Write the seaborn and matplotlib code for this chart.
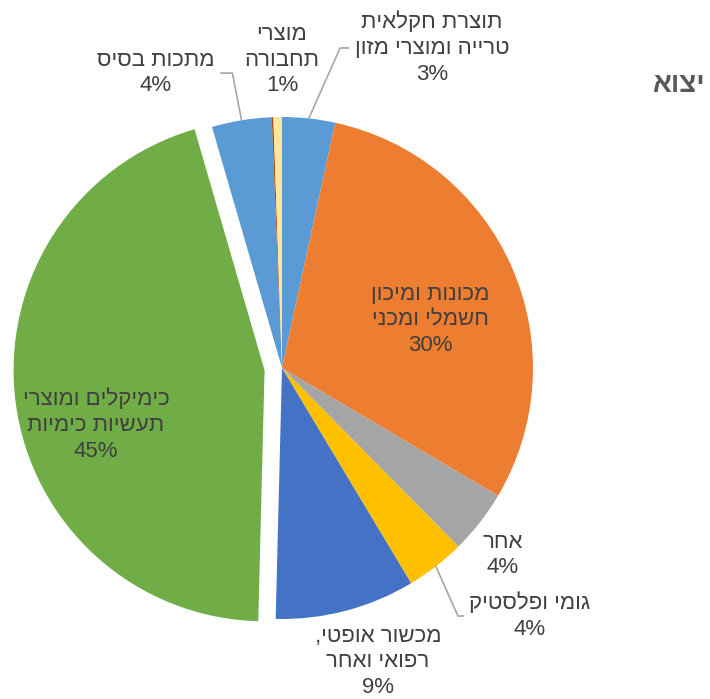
import numpy as np
import matplotlib
matplotlib.use("Agg")
import matplotlib.pyplot as plt
import seaborn as sns

# ── Data ──────────────────────────────────────────────────────────────────────
SECTORS = [
    "תוצרת חקלאית\nטרייה ומוצרי מזון",
    "מכונות ומיכון\nחשמלי ומכני",
    "אחר",
    "גומי ופלסטיק",
    "מכשור אופטי,\nרפואי ואחר",
    "כימיקלים ומוצרי\nתעשיות כימיות",
    "מתכות בסיס",
    "",
    "מוצרי\nתחבורה",
]
SHARES = [3.4, 30.1, 4.1, 3.8, 9.0, 45.1, 3.85, 0.1, 0.55]
COLORS = ["#5B9BD5", "#ED7D31", "#A5A5A5", "#FFC000", "#4472C4",
          "#70AD47", "#5B9BD5", "#9E480E", "#FFE699"]
TITLE = "יצוא"

# ── Layout (label anchors in pie-radius units, leader angle at the slice) ────
LABEL_XY = {
    0: (0.598, 1.275),
    1: (0.590, 0.191),
    2: (0.880, -0.745),
    3: (0.988, -0.988),
    4: (0.382, -1.171),
    5: (-0.741, -0.227),
    6: (-0.502, 1.175),
    8: (0.0, 1.227),
}
LEADERS = {0: 66, 3: -66, 6: 101}

TEXT_COLOR = "#404040"
LINE_COLOR = "#A6A6A6"


def visual(s: str) -> str:
    # matplotlib has no bidi support: flip each Hebrew line by hand
    return "\n".join(line[::-1] for line in s.split("\n"))


sns.set_theme(style="white")
plt.rcParams["font.family"] = ["Liberation Sans", "DejaVu Sans"]

W, H, R, CX, CY = 710, 699, 251, 282, 368
fig = plt.figure(figsize=(W / 100, H / 100), dpi=100)
ax = fig.add_axes([0, 0, 1, 1])

explode = [0.07 if i == 5 else 0 for i in range(len(SHARES))]
wedges, _ = ax.pie(
    SHARES, colors=COLORS, startangle=90, counterclock=False,
    explode=explode, radius=1, wedgeprops=dict(linewidth=0),
)

total = sum(SHARES)
for i, (name, val) in enumerate(zip(SECTORS, SHARES)):
    if i not in LABEL_XY:
        continue
    txt = visual(name) + f"\n{round(val / total * 100)}%"
    w = wedges[i]
    mid = np.deg2rad((w.theta1 + w.theta2) / 2)
    tip = (np.cos(mid), np.sin(mid))
    if i in LEADERS:
        ax.annotate(
            txt, xy=tip, xytext=LABEL_XY[i], ha="center", va="center",
            fontsize=16, color=TEXT_COLOR, linespacing=1.3,
            arrowprops=dict(arrowstyle="-", color=LINE_COLOR, lw=1.2,
                            shrinkA=2, shrinkB=0,
                            connectionstyle=f"angle,angleA=0,angleB={LEADERS[i]},rad=0"),
        )
    else:
        ax.text(*LABEL_XY[i], txt, ha="center", va="center",
                fontsize=16, color=TEXT_COLOR, linespacing=1.3)

ax.set_xlim(-CX / R, (W - CX) / R)
ax.set_ylim(-(H - CY) / R, CY / R)
ax.set_aspect("auto")
ax.axis("off")

fig.text(705 / W, 1 - 85 / H, visual(TITLE), ha="right", va="center",
         fontsize=20, fontweight="bold", color="#595959")

fig.savefig("out.png", dpi=100, facecolor="white")
